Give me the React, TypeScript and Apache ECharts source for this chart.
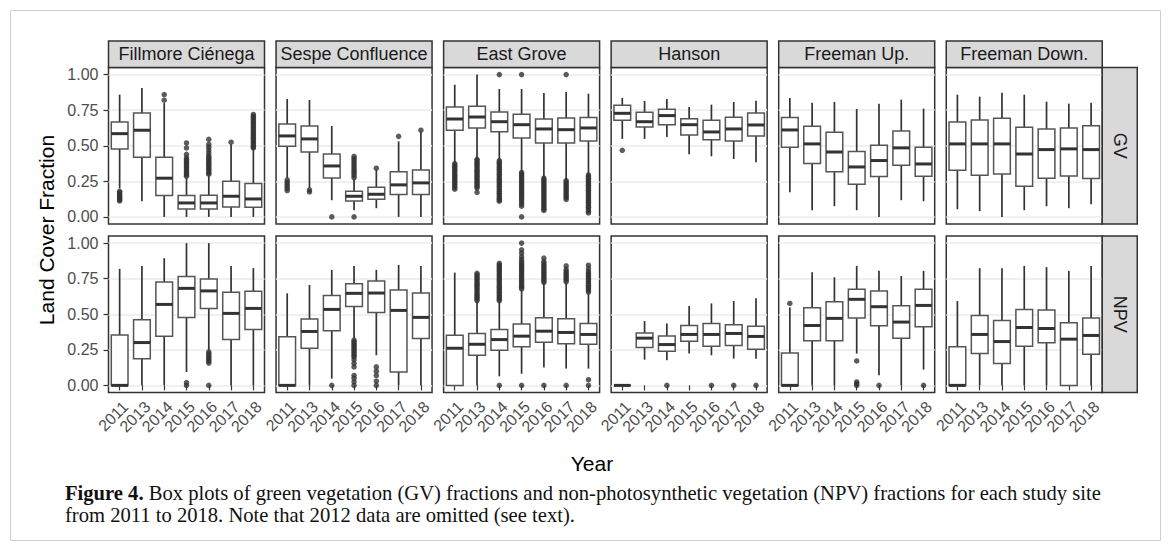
import React, { useEffect, useRef } from 'react';
import * as echarts from 'echarts';

const years = ['2011', '2013', '2014', '2015', '2016', '2017', '2018'];
const sites = ['Fillmore Ciénega', 'Sespe Confluence', 'East Grove', 'Hanson', 'Freeman Up.', 'Freeman Down.'];
const rowLabels = ['GV', 'NPV'];
const yTicks = [0, 0.25, 0.5, 0.75, 1];

// each box: [lower whisker, Q1, median, Q3, upper whisker]
const gvFillmore = [[0.20, 0.478, 0.585, 0.667, 0.859], [0.11, 0.419, 0.609, 0.73, 0.906], [0, 0.15, 0.272, 0.419, 0.80], [0, 0.056, 0.098, 0.15, 0.274], [0, 0.056, 0.098, 0.152, 0.29], [0, 0.07, 0.145, 0.25, 0.51], [0, 0.068, 0.126, 0.234, 0.48]];
const gvSespe = [[0.274, 0.496, 0.569, 0.653, 0.829], [0.204, 0.456, 0.548, 0.639, 0.822], [0.117, 0.274, 0.358, 0.442, 0.639], [0.047, 0.112, 0.145, 0.18, 0.262], [0.061, 0.124, 0.159, 0.208, 0.33], [0, 0.157, 0.225, 0.318, 0.531], [0, 0.157, 0.239, 0.33, 0.60]];
const gvEastGrove = [[0.379, 0.609, 0.688, 0.772, 0.929], [0.407, 0.625, 0.702, 0.777, 1.0], [0.398, 0.599, 0.669, 0.737, 0.899], [0.316, 0.555, 0.648, 0.721, 0.899], [0.274, 0.52, 0.618, 0.688, 0.871], [0.257, 0.52, 0.613, 0.695, 0.878], [0.297, 0.534, 0.625, 0.698, 0.866]];
const gvHanson = [[0.548, 0.679, 0.728, 0.784, 0.836], [0.548, 0.632, 0.669, 0.735, 0.815], [0.562, 0.648, 0.712, 0.756, 0.829], [0.44, 0.576, 0.648, 0.69, 0.772], [0.426, 0.543, 0.597, 0.679, 0.789], [0.407, 0.534, 0.618, 0.70, 0.808], [0.384, 0.569, 0.646, 0.73, 0.817]];
const gvFreemanUp = [[0.173, 0.489, 0.611, 0.698, 0.836], [0.047, 0.375, 0.513, 0.637, 0.803], [0.075, 0.318, 0.456, 0.595, 0.808], [0.047, 0.229, 0.351, 0.459, 0.758], [0, 0.283, 0.396, 0.503, 0.796], [0.117, 0.363, 0.485, 0.604, 0.824], [0.11, 0.286, 0.372, 0.489, 0.761]];
const gvFreemanDown = [[0.054, 0.328, 0.513, 0.667, 0.859], [0.04, 0.293, 0.513, 0.681, 0.845], [0, 0.302, 0.513, 0.693, 0.873], [0.047, 0.215, 0.442, 0.63, 0.859], [0.075, 0.272, 0.473, 0.618, 0.81], [0.061, 0.288, 0.478, 0.625, 0.796], [0.089, 0.269, 0.473, 0.641, 0.803]];

const npvFillmore = [[0, 0, 0, 0.355, 0.819], [0, 0.188, 0.301, 0.461, 0.84], [0, 0.346, 0.569, 0.727, 0.894], [0.094, 0.478, 0.682, 0.765, 1.0], [0.247, 0.541, 0.664, 0.748, 1.0], [0, 0.322, 0.506, 0.654, 0.84], [0, 0.393, 0.541, 0.661, 0.824]];
const npvSespe = [[0, 0, 0, 0.341, 0.647], [0, 0.261, 0.379, 0.466, 0.706], [0.047, 0.384, 0.534, 0.631, 0.812], [0.329, 0.555, 0.647, 0.715, 0.84], [0.212, 0.513, 0.649, 0.734, 0.812], [0, 0.094, 0.527, 0.671, 0.847], [0, 0.329, 0.478, 0.649, 0.84]];
const npvEastGrove = [[0, 0, 0.261, 0.353, 0.793], [0, 0.212, 0.289, 0.365, 0.588], [0.064, 0.247, 0.322, 0.393, 0.588], [0.082, 0.271, 0.346, 0.431, 0.67], [0.125, 0.304, 0.381, 0.475, 0.718], [0.118, 0.292, 0.372, 0.468, 0.718], [0.118, 0.289, 0.358, 0.435, 0.647]];
const npvHanson = [[0, 0, 0, 0, 0], [0.181, 0.266, 0.332, 0.369, 0.452], [0.176, 0.24, 0.287, 0.348, 0.435], [0.224, 0.311, 0.358, 0.421, 0.558], [0.212, 0.275, 0.358, 0.435, 0.576], [0.188, 0.28, 0.365, 0.426, 0.593], [0.188, 0.254, 0.344, 0.416, 0.612]];
const npvFreemanUp = [[0, 0, 0, 0.228, 0.548], [0, 0.313, 0.421, 0.546, 0.795], [0, 0.313, 0.471, 0.588, 0.76], [0.224, 0.473, 0.605, 0.675, 0.84], [0.071, 0.419, 0.553, 0.664, 0.805], [0, 0.332, 0.445, 0.56, 0.769], [0.111, 0.412, 0.562, 0.675, 0.805]];
const npvFreemanDown = [[0, 0, 0, 0.271, 0.593], [0, 0.224, 0.358, 0.492, 0.824], [0, 0.153, 0.308, 0.456, 0.824], [0, 0.275, 0.407, 0.534, 0.84], [0, 0.299, 0.4, 0.529, 0.831], [0, 0, 0.325, 0.44, 0.805], [0, 0.219, 0.351, 0.473, 0.84]];

// outliers per year
const gvFillmoreOut = [
  [0.18, 0.17, 0.16, 0.15, 0.14, 0.13, 0.12, 0.112],
  [],
  [0.86, 0.82],
  [0.52, 0.485, 0.44, 0.415, 0.403, 0.391, 0.379, 0.367, 0.355, 0.343, 0.331, 0.319, 0.307, 0.295, 0.286],
  [0.545, 0.51, 0.49, 0.47, 0.45, 0.43, 0.418, 0.406, 0.394, 0.382, 0.37, 0.358, 0.346, 0.334, 0.322, 0.31, 0.3],
  [0.525],
  [0.72, 0.708, 0.696, 0.684, 0.672, 0.66, 0.648, 0.636, 0.624, 0.612, 0.6, 0.588, 0.576, 0.564, 0.552, 0.54, 0.528, 0.516, 0.504, 0.492, 0.485],
];
const gvSespeOut = [
  [0.26, 0.245, 0.23, 0.215, 0.2, 0.185],
  [0.19, 0.175],
  [0],
  [0.425, 0.41, 0.395, 0.38, 0.365, 0.35, 0.335, 0.32, 0.305, 0.29, 0.275, 0],
  [0.342],
  [0.566],
  [0.609],
];
const gvEastGroveOut = [
  [0.375, 0.363, 0.351, 0.339, 0.327, 0.315, 0.303, 0.291, 0.279, 0.267, 0.255, 0.243, 0.231, 0.219, 0.207, 0.195],
  [0.405, 0.393, 0.381, 0.369, 0.357, 0.345, 0.333, 0.321, 0.309, 0.297, 0.285, 0.273, 0.261, 0.249, 0.237, 0.225, 0.213, 0.203, 0.173],
  [1.0, 0.395, 0.383, 0.371, 0.359, 0.347, 0.335, 0.323, 0.311, 0.299, 0.287, 0.275, 0.263, 0.251, 0.239, 0.227, 0.215, 0.203, 0.191, 0.179, 0.167, 0.155, 0.143, 0.131, 0.12, 0.11],
  [1.0, 0.312, 0.3, 0.288, 0.276, 0.264, 0.252, 0.24, 0.228, 0.216, 0.204, 0.192, 0.18, 0.168, 0.156, 0.144, 0.132, 0.12, 0.105, 0.09, 0.075, 0],
  [0.272, 0.26, 0.248, 0.236, 0.224, 0.212, 0.2, 0.188, 0.176, 0.164, 0.152, 0.14, 0.128, 0.116, 0.104, 0.092, 0.08, 0.068, 0.056, 0.045],
  [1.0, 0.255, 0.243, 0.231, 0.219, 0.207, 0.195, 0.183, 0.171, 0.159, 0.147, 0.135, 0.123],
  [0.295, 0.283, 0.271, 0.259, 0.247, 0.235, 0.223, 0.211, 0.199, 0.187, 0.175, 0.163, 0.151, 0.139, 0.127, 0.115, 0.103, 0.091, 0.079, 0.067, 0.055, 0.04, 0.028],
];
const gvHansonOut = [[0.468], [], [], [], [], [], []];
const gvFreemanUpOut = [[], [], [], [], [], [], []];
const gvFreemanDownOut = [[], [], [], [], [], [], []];

const npvFillmoreOut = [[], [], [], [0.02, 0], [0.235, 0.222, 0.209, 0.196, 0.183, 0.17, 0.157, 0], [], []];
const npvSespeOut = [
  [], [], [0],
  [0.318, 0.306, 0.294, 0.282, 0.27, 0.258, 0.246, 0.234, 0.222, 0.21, 0.2, 0.18, 0.155, 0.13, 0.07, 0.05, 0.025, 0],
  [0.13, 0.1, 0.07, 0.03, 0],
  [], [],
];
const npvEastGroveOut = [
  [],
  [0.788, 0.776, 0.764, 0.752, 0.74, 0.728, 0.716, 0.704, 0.692, 0.68, 0.668, 0.656, 0.644, 0.632, 0.62, 0.608, 0.596],
  [0.858, 0.846, 0.834, 0.822, 0.81, 0.798, 0.786, 0.774, 0.762, 0.75, 0.738, 0.726, 0.714, 0.702, 0.69, 0.678, 0.666, 0.654, 0.642, 0.63, 0.618, 0.606, 0.595, 0],
  [1.0, 0.953, 0.93, 0.905, 0.885, 0.87, 0.858, 0.846, 0.834, 0.822, 0.81, 0.798, 0.786, 0.774, 0.762, 0.75, 0.738, 0.726, 0.714, 0.702, 0.69, 0.678, 0],
  [0.895, 0.87, 0.855, 0.843, 0.831, 0.819, 0.807, 0.795, 0.783, 0.771, 0.759, 0.747, 0.735, 0.724, 0],
  [0.84, 0.815, 0.8, 0.788, 0.776, 0.764, 0.752, 0.74, 0.728, 0],
  [0.845, 0.82, 0.8, 0.788, 0.776, 0.764, 0.752, 0.74, 0.728, 0.716, 0.704, 0.692, 0.68, 0.668, 0.656, 0.04, 0],
];
const npvHansonOut = [[], [], [0], [], [0], [0], [0]];
const npvFreemanUpOut = [[0.576], [], [], [0.172, 0.024, 0.012, 0], [0], [], [0]];
const npvFreemanDownOut = [[], [], [], [], [], [], []];

const boxesByRow = [
  [gvFillmore, gvSespe, gvEastGrove, gvHanson, gvFreemanUp, gvFreemanDown],
  [npvFillmore, npvSespe, npvEastGrove, npvHanson, npvFreemanUp, npvFreemanDown],
];
const outByRow = [
  [gvFillmoreOut, gvSespeOut, gvEastGroveOut, gvHansonOut, gvFreemanUpOut, gvFreemanDownOut],
  [npvFillmoreOut, npvSespeOut, npvEastGroveOut, npvHansonOut, npvFreemanUpOut, npvFreemanDownOut],
];

const FONT = '"Liberation Sans", Arial, Helvetica, sans-serif';
const SERIF = '"Liberation Serif", "Times New Roman", serif';
const PL = 108.5;
const PW = 156;
const GAP = 11.55;
const ROW_TOP = [67.5, 236];
const PH = 156.5;
const STRIP_H = 26.5;
const STRIP_W = 35;

function buildOption() {
  const grids: any[] = [];
  const xAxes: any[] = [];
  const yAxes: any[] = [];
  const series: any[] = [];
  const graphics: any[] = [];

  graphics.push({
    type: 'rect', shape: { x: 10.5, y: 10.5, width: 1150, height: 530 },
    style: { fill: 'none', stroke: '#cfcfcf', lineWidth: 1 }, silent: true, z: -10,
  });

  for (let r = 0; r < 2; r++) {
    for (let c = 0; c < 6; c++) {
      const idx = r * 6 + c;
      const left = PL + c * (PW + GAP);
      const top = ROW_TOP[r];
      grids.push({
        left, top, width: PW, height: PH, show: true,
        backgroundColor: '#fff', borderColor: '#333', borderWidth: 1.5,
      });
      xAxes.push({
        gridIndex: idx, type: 'category', data: years, boundaryGap: true,
        axisLine: { show: false },
        axisTick: { show: r === 1, alignWithLabel: true, length: 5, lineStyle: { color: '#333', width: 1.2 } },
        axisLabel: {
          show: r === 1, rotate: 45, interval: 0, hideOverlap: false, fontSize: 16,
          color: '#4D4D4D', margin: 6, fontFamily: FONT, align: 'right', verticalAlign: 'top',
        },
        splitLine: { show: false },
      });
      yAxes.push({
        gridIndex: idx, type: 'value', min: -0.05, max: 1.05,
        axisLine: { show: false },
        axisTick: { show: c === 0, customValues: yTicks, length: 5, lineStyle: { color: '#333', width: 1.2 } },
        axisLabel: {
          show: c === 0, customValues: yTicks, fontSize: 16, color: '#4D4D4D', margin: 10,
          fontFamily: FONT, formatter: (v: number) => v.toFixed(2),
        },
        splitLine: { show: true, lineStyle: { color: '#EBEBEB', width: 1.6 } },
      });
      const boxes = boxesByRow[r][c];
      series.push({
        type: 'custom', xAxisIndex: idx, yAxisIndex: idx, z: 2,
        data: boxes.map((b, i) => [i, ...b]),
        encode: { x: 0, y: [1, 2, 3, 4, 5] },
        renderItem: (params: any, api: any) => {
          const x = api.value(0);
          const lo = api.coord([x, api.value(1)]);
          const q1 = api.coord([x, api.value(2)]);
          const md = api.coord([x, api.value(3)]);
          const q3 = api.coord([x, api.value(4)]);
          const hi = api.coord([x, api.value(5)]);
          const w = api.size([1, 0])[0] * 0.75;
          return {
            type: 'group',
            children: [
              { type: 'line', shape: { x1: lo[0], y1: lo[1], x2: hi[0], y2: hi[1] }, style: { stroke: '#333', lineWidth: 1.7 } },
              { type: 'rect', shape: { x: q3[0] - w / 2, y: q3[1], width: w, height: q1[1] - q3[1] }, style: { fill: '#fff', stroke: '#555', lineWidth: 1.5 } },
              { type: 'line', shape: { x1: md[0] - w / 2, y1: md[1], x2: md[0] + w / 2, y2: md[1] }, style: { stroke: '#333', lineWidth: 3 } },
            ],
          };
        },
      });
      const outs = outByRow[r][c];
      const pts: number[][] = [];
      outs.forEach((arr, i) => arr.forEach((v) => pts.push([i, v])));
      series.push({
        type: 'scatter', xAxisIndex: idx, yAxisIndex: idx, z: 3,
        data: pts, symbol: 'circle', symbolSize: 5.5,
        itemStyle: { color: '#333' }, silent: true,
      });

      if (r === 0) {
        graphics.push({
          type: 'rect', shape: { x: left, y: top - STRIP_H, width: PW, height: STRIP_H },
          style: { fill: '#D9D9D9', stroke: '#333', lineWidth: 1.5 }, z: 5,
        });
        graphics.push({
          type: 'text', x: left + PW / 2, y: top - STRIP_H / 2,
          style: { text: sites[c], fontSize: 18, fontFamily: FONT, fill: '#1A1A1A', align: 'center', verticalAlign: 'middle' }, z: 6,
        });
      }
      if (c === 5) {
        graphics.push({
          type: 'rect', shape: { x: left + PW, y: top, width: STRIP_W, height: PH },
          style: { fill: '#D9D9D9', stroke: '#333', lineWidth: 1.5 }, z: 5,
        });
        graphics.push({
          type: 'text', x: left + PW + STRIP_W / 2, y: top + PH / 2, rotation: -Math.PI / 2,
          style: { text: rowLabels[r], fontSize: 18, fontFamily: FONT, fill: '#1A1A1A', align: 'center', verticalAlign: 'middle' }, z: 6,
        });
      }
    }
  }

  graphics.push({
    type: 'text', x: 46, y: (ROW_TOP[0] + ROW_TOP[1] + PH) / 2, rotation: Math.PI / 2,
    style: { text: 'Land Cover Fraction', fontSize: 21, fontFamily: FONT, fill: '#000', align: 'center', verticalAlign: 'middle' },
  });
  graphics.push({
    type: 'text', x: 592, y: 463,
    style: { text: 'Year', fontSize: 21, fontFamily: FONT, fill: '#000', align: 'center', verticalAlign: 'middle' },
  });
  graphics.push({
    type: 'text', x: 65, y: 482,
    style: {
      text: '{b|Figure 4.} Box plots of green vegetation (GV) fractions and non-photosynthetic vegetation (NPV) fractions for each study site\nfrom 2011 to 2018. Note that 2012 data are omitted (see text).',
      fontSize: 20.6, fontFamily: SERIF, fill: '#111', lineHeight: 22, align: 'left', verticalAlign: 'top',
      rich: { b: { fontWeight: 'bold', fontSize: 20.6, fontFamily: SERIF, fill: '#111', lineHeight: 22 } },
    },
  });

  return {
    animation: false,
    backgroundColor: '#fff',
    grid: grids,
    xAxis: xAxes,
    yAxis: yAxes,
    series,
    graphic: graphics,
  };
}

export default function App() {
  const ref = useRef<HTMLDivElement>(null);
  useEffect(() => {
    if (!ref.current) return;
    const chart = echarts.init(ref.current, undefined, { renderer: 'svg' });
    chart.setOption(buildOption() as any);
    return () => chart.dispose();
  }, []);
  return (
    <div
      ref={ref}
      style={{ position: 'absolute', left: 0, top: 0, width: '1171px', height: '551px', background: '#fff' }}
    />
  );
}
